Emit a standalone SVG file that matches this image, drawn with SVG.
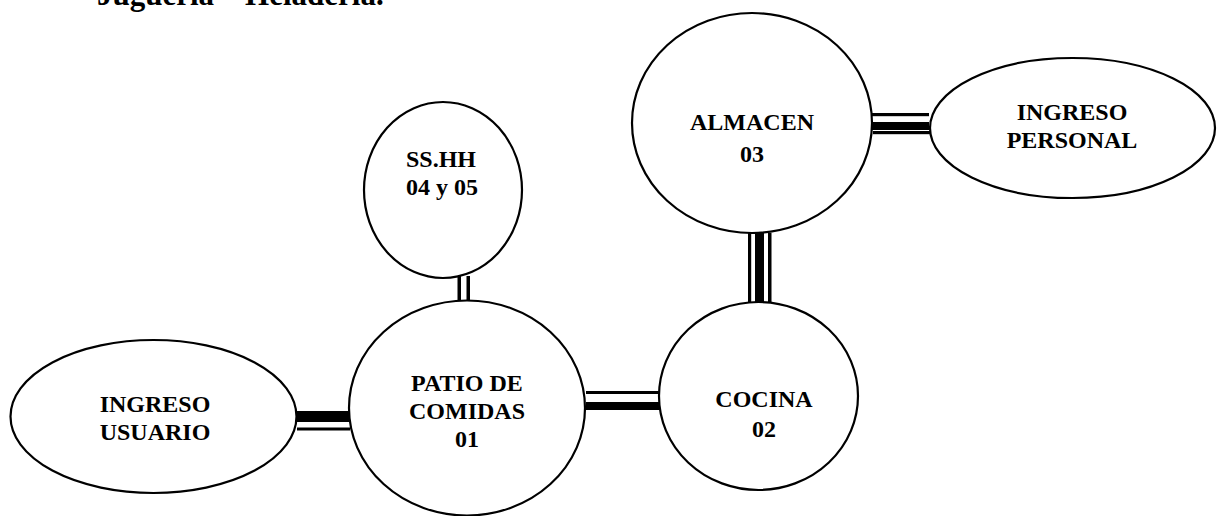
<svg xmlns="http://www.w3.org/2000/svg" width="1220" height="516" viewBox="0 0 1220 516">
<style>
.n{fill:#fff;stroke:#000;stroke-width:2.2}
.t{font-family:"Liberation Serif","Times New Roman",serif;font-weight:bold;font-size:24px;text-anchor:middle;fill:#000}
.h{font-family:"Liberation Serif","Times New Roman",serif;font-weight:bold;font-size:31px;fill:#000}
.b{fill:#000}
</style>
<rect width="1220" height="516" fill="#fff"/>
<text class="h" x="97" y="5">Juguería – Heladería.</text>
<g id="connectors">
<rect class="b" x="297" y="411" width="61" height="4"/>
<rect class="b" x="297" y="415" width="54" height="7"/>
<rect class="b" x="297" y="427.5" width="53" height="3"/>
<rect class="b" x="457.5" y="276" width="3.5" height="26"/>
<rect class="b" x="466.5" y="276" width="3.5" height="26"/>
<rect class="b" x="586" y="391" width="78" height="3"/>
<rect class="b" x="586" y="402" width="73" height="8"/>
<rect class="b" x="748" y="233" width="3.2" height="71"/>
<rect class="b" x="755" y="233" width="9" height="71"/>
<rect class="b" x="768" y="233" width="3.5" height="71"/>
<rect class="b" x="871" y="113" width="58" height="3.2"/>
<rect class="b" x="871" y="122" width="58" height="8"/>
<rect class="b" x="873" y="131" width="62" height="3.2"/>
</g>
<g id="ingreso-usuario">
<ellipse class="n" cx="153.5" cy="416.5" rx="143" ry="76.5"/>
<text class="t" x="155" y="412">INGRESO</text>
<text class="t" x="155" y="440">USUARIO</text>
</g>
<g id="sshh">
<ellipse class="n" cx="443" cy="190" rx="79" ry="88"/>
<text class="t" x="441" y="167">SS.HH</text>
<text class="t" x="442" y="195">04 y 05</text>
</g>
<g id="patio">
<ellipse class="n" cx="467" cy="408" rx="118" ry="107.5"/>
<text class="t" x="467" y="391">PATIO DE</text>
<text class="t" x="467" y="419">COMIDAS</text>
<text class="t" x="467" y="447">01</text>
</g>
<g id="cocina">
<ellipse class="n" cx="758.5" cy="396" rx="99.5" ry="94"/>
<text class="t" x="764" y="407">COCINA</text>
<text class="t" x="764" y="437">02</text>
</g>
<g id="almacen">
<ellipse class="n" cx="752" cy="123" rx="120" ry="110"/>
<text class="t" x="752" y="130">ALMACEN</text>
<text class="t" x="752" y="162">03</text>
</g>
<g id="ingreso-personal">
<ellipse class="n" cx="1072.5" cy="128" rx="142.5" ry="70"/>
<text class="t" x="1072" y="120">INGRESO</text>
<text class="t" x="1072" y="148">PERSONAL</text>
</g>
</svg>
